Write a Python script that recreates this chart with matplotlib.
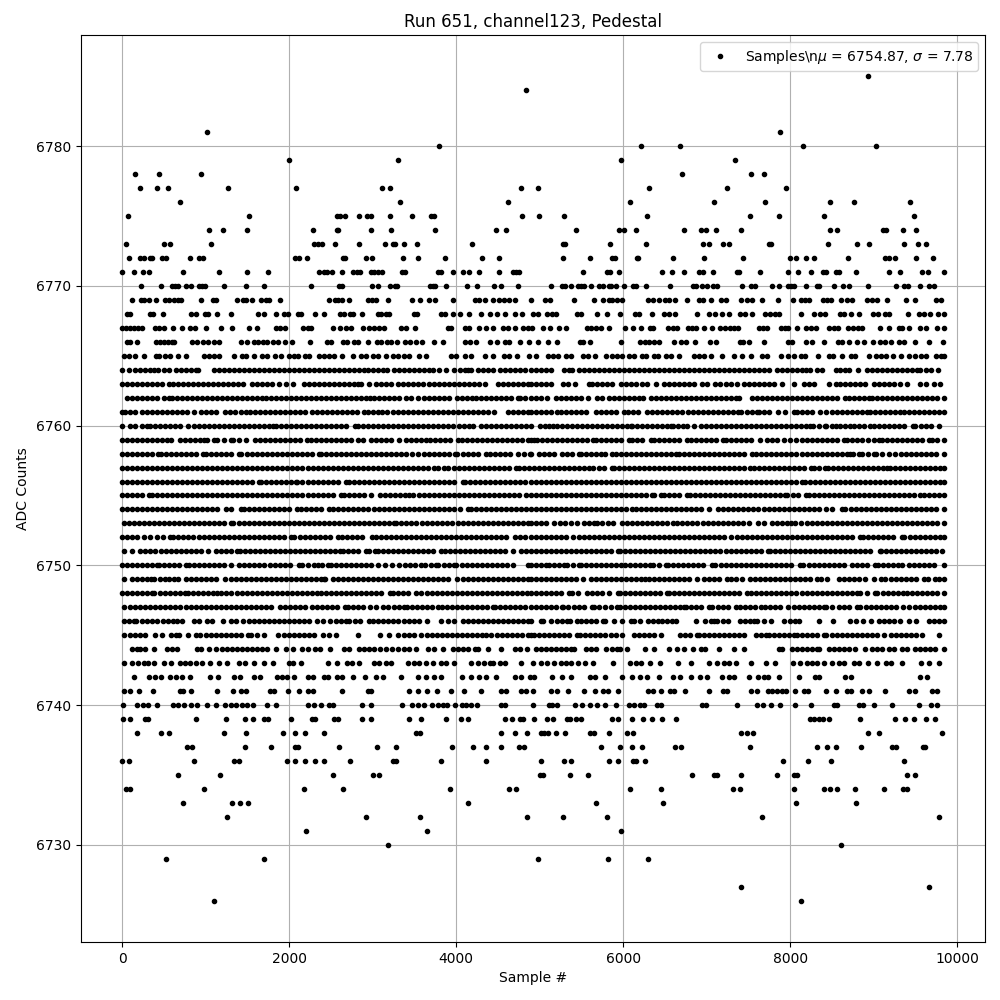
import matplotlib
matplotlib.use("Agg")
import matplotlib.pyplot as plt

# Sample numbers, one list per ADC level
s6785 = [8929]
s6784 = [4832]
s6781 = [1014, 7875]
s6780 = [3800, 6211, 6678, 8151, 9024]
s6779 = [2000, 3305, 5972, 7337]
s6778 = [152, 440, 944, 6702, 7528, 7684]
s6777 = [212, 416, 548, 1268, 2084, 3116, 3212, 4772, 4979, 6307, 7241, 7947]
s6776 = [692, 3332, 4616, 6080, 7085, 7696, 8474, 8761, 9431]
s6775 = [68, 1520, 2576, 2612, 2672, 2840, 2936, 2984, 3212, 3476, 3704, 3740, 4784, 4991, 5290, 6283, 7516, 7863, 8402, 9479]
s6774 = [1040, 1208, 1496, 2288, 2576, 2588, 2984, 3224, 3752, 4472, 4592, 5433, 5948, 6008, 6152, 6726, 6930, 6990, 7109, 7408, 8474, 8558, 9108, 9144, 9348, 9503]
s6773 = [44, 500, 568, 1064, 2300, 2348, 2396, 2552, 2840, 3152, 3248, 3272, 3380, 3536, 4184, 5278, 5302, 5840, 6271, 6954, 7025, 7193, 7265, 7744, 7768, 8447, 8797, 8940, 9359, 9527, 9623]
s6772 = [80, 212, 260, 332, 356, 476, 524, 812, 920, 968, 2072, 2120, 2216, 2648, 2672, 2924, 2996, 3368, 3548, 3872, 4304, 4508, 5278, 5601, 5864, 5900, 6164, 6176, 6595, 6966, 7432, 7995, 8067, 8186, 8282, 8689, 9132, 9180, 9252, 9503, 9707]
s6771 = [0, 140, 248, 320, 728, 1160, 1496, 1748, 2360, 2420, 2456, 2516, 2636, 2768, 2816, 2852, 2984, 3020, 3068, 3116, 3356, 3392, 3788, 3824, 3968, 4076, 4148, 4268, 4508, 4676, 4712, 4748, 5517, 5804, 5840, 5948, 6463, 6583, 6726, 6906, 6954, 7073, 7361, 7385, 7636, 7971, 8091, 8246, 8390, 8426, 8546, 8582, 8785, 9180, 9312, 9575, 9647, 9840]
s6770 = [224, 464, 596, 632, 668, 764, 824, 920, 956, 992, 1220, 1484, 1700, 2264, 2600, 2636, 2996, 3068, 3212, 3272, 3296, 3692, 3728, 3752, 3884, 4124, 4244, 4448, 4532, 4736, 5134, 5266, 5302, 5374, 5457, 5493, 5529, 5613, 5709, 5757, 5828, 5852, 5912, 6008, 6116, 6152, 6271, 6559, 6834, 6870, 6942, 7001, 7073, 7121, 7420, 7528, 7576, 7780, 7863, 7971, 8007, 8043, 8186, 8318, 8342, 8522, 8629, 8701, 8929, 9264, 9359, 9407, 9551, 9659, 9719]
s6769 = [116, 224, 260, 320, 404, 512, 560, 620, 668, 704, 944, 1088, 1124, 1376, 1448, 1484, 1556, 1664, 1724, 1760, 1892, 2480, 2552, 2588, 2636, 2720, 2948, 2996, 3044, 3188, 3476, 3572, 3680, 3752, 3968, 4220, 4268, 4340, 4436, 4508, 4568, 4628, 4700, 4895, 5062, 5122, 5409, 5649, 5757, 5828, 5864, 5924, 5984, 6295, 6355, 6427, 6499, 6547, 6618, 6762, 6906, 6954, 7049, 7169, 7229, 7408, 7480, 7540, 7660, 7851, 8031, 8127, 8175, 8223, 8390, 8438, 8486, 8605, 8677, 8737, 8917, 8977, 9036, 9156, 9383, 9491, 9743, 9803]
s6768 = [56, 92, 332, 368, 488, 824, 884, 992, 1028, 1136, 1304, 1628, 1700, 1844, 1940, 1988, 2108, 2144, 2312, 2420, 2612, 2660, 2732, 2768, 2876, 3068, 3104, 3164, 3200, 3500, 3536, 3824, 3872, 3968, 4040, 4148, 4292, 4400, 4484, 4580, 4700, 4784, 4919, 4979, 5086, 5146, 5194, 5445, 5493, 5685, 5804, 5960, 6140, 6188, 6343, 6487, 6547, 6618, 6878, 7025, 7097, 7181, 7265, 7397, 7456, 7540, 7696, 7756, 7815, 7863, 8123, 8282, 8354, 8414, 8593, 8641, 8725, 8821, 8989, 9048, 9132, 9180, 9407, 9539, 9599, 9671, 9767, 9838]
s6767 = [0, 44, 92, 140, 188, 244, 392, 440, 500, 608, 716, 812, 872, 1004, 1184, 1316, 1520, 1616, 1844, 1892, 1952, 2168, 2228, 2264, 2528, 2612, 2684, 2744, 2888, 2960, 3020, 3080, 3140, 3344, 3404, 3512, 3908, 3944, 4100, 4148, 4268, 4352, 4436, 4556, 4616, 4700, 4800, 4860, 4907, 5038, 5122, 5230, 5314, 5565, 5613, 5673, 5733, 5828, 6020, 6116, 6211, 6319, 6355, 6535, 6595, 6642, 6774, 6822, 6870, 6966, 7061, 7157, 7217, 7277, 7325, 7373, 7624, 7672, 7720, 7887, 7935, 7971, 8079, 8186, 8246, 8306, 8462, 8522, 8570, 8689, 8749, 8809, 8857, 9072, 9180, 9300, 9336, 9419, 9551, 9623, 9755, 9840]
s6766 = [56, 92, 176, 404, 452, 500, 548, 596, 620, 836, 896, 968, 1028, 1100, 1160, 1420, 1496, 1580, 1628, 1688, 1736, 1808, 1868, 1948, 2032, 2248, 2456, 2504, 2648, 2696, 2780, 2828, 2940, 3056, 3104, 3176, 3224, 3296, 3392, 3452, 3524, 3596, 3740, 3848, 4100, 4160, 4232, 4400, 4484, 4580, 4628, 4760, 4868, 4979, 5098, 5206, 5481, 5517, 5601, 5972, 6200, 6259, 6307, 6367, 6427, 6606, 6690, 6750, 6858, 7037, 7109, 7397, 7432, 7512, 7684, 7971, 8019, 8186, 8258, 8402, 8570, 8617, 8701, 8797, 8881, 8989, 9072, 9132, 9204, 9300, 9359, 9491, 9659, 9826]
s6765 = [20, 80, 152, 260, 404, 440, 512, 572, 668, 764, 980, 1040, 1100, 1160, 1340, 1436, 1484, 1576, 1676, 1740, 1832, 1904, 2000, 2060, 2108, 2192, 2240, 2360, 2420, 2480, 2540, 2636, 2768, 2864, 2924, 3000, 3060, 3164, 3240, 3300, 3380, 3440, 3560, 3640, 3944, 4004, 4100, 4180, 4340, 4440, 4568, 4628, 4724, 4868, 4951, 5098, 5158, 5218, 5314, 5374, 5517, 5577, 5661, 5792, 5864, 5924, 5984, 6068, 6128, 6223, 6271, 6367, 6415, 6511, 6571, 6666, 6846, 6906, 6966, 7049, 7181, 7325, 7420, 7528, 7660, 7720, 7887, 7971, 8043, 8127, 8175, 8330, 8462, 8510, 8617, 8725, 8773, 8941, 9024, 9084, 9144, 9228, 9324, 9419, 9491, 9563, 9623, 9743, 9803, 9840]
s6764 = [0, 80, 160, 220, 280, 340, 380, 428, 500, 560, 640, 700, 760, 820, 880, 908, 1100, 1160, 1220, 1280, 1340, 1400, 1460, 1520, 1580, 1640, 1700, 1760, 1820, 1880, 1940, 2000, 2060, 2120, 2180, 2240, 2300, 2360, 2420, 2480, 2540, 2600, 2660, 2720, 2780, 2840, 2900, 2940, 3000, 3060, 3120, 3172, 3260, 3320, 3380, 3440, 3500, 3560, 3620, 3680, 3720, 3800, 3880, 3980, 4040, 4100, 4140, 4180, 4260, 4320, 4380, 4440, 4520, 4580, 4640, 4700, 4760, 4820, 4900, 4950, 5010, 5070, 5130, 5290, 5350, 5390, 5469, 5529, 5590, 5650, 5710, 5770, 5830, 5890, 5950, 6010, 6070, 6130, 6190, 6250, 6310, 6370, 6430, 6490, 6550, 6610, 6670, 6730, 6790, 6850, 6910, 6966, 7025, 7085, 7145, 7205, 7265, 7325, 7385, 7445, 7505, 7565, 7625, 7684, 7744, 7843, 7903, 7963, 8023, 8083, 8143, 8183, 8242, 8322, 8382, 8542, 8600, 8660, 8701, 8809, 8921, 8980, 9040, 9100, 9160, 9220, 9280, 9340, 9400, 9460, 9519, 9559, 9620, 9680, 9767]
s6763 = [0, 60, 120, 180, 240, 300, 360, 420, 480, 560, 612, 672, 732, 792, 852, 912, 972, 1032, 1092, 1152, 1212, 1272, 1332, 1392, 1452, 1560, 1620, 1680, 1740, 1800, 1880, 1968, 2052, 2180, 2240, 2300, 2360, 2420, 2480, 2540, 2600, 2660, 2720, 2780, 2820, 2860, 2960, 3040, 3100, 3160, 3220, 3300, 3360, 3420, 3480, 3540, 3600, 3680, 3732, 3790, 3850, 3920, 3972, 4030, 4090, 4150, 4210, 4270, 4340, 4500, 4560, 4620, 4680, 4740, 4800, 4860, 4891, 4951, 5010, 5070, 5130, 5278, 5340, 5421, 5589, 5629, 5690, 5750, 5810, 5870, 5968, 6028, 6090, 6150, 6227, 6287, 6387, 6487, 6550, 6610, 6666, 6726, 6790, 6850, 6946, 7005, 7097, 7165, 7225, 7285, 7365, 7444, 7505, 7565, 7625, 7685, 7745, 7805, 7903, 8043, 8163, 8220, 8282, 8462, 8542, 8601, 8660, 8720, 8780, 8840, 8901, 9000, 9060, 9120, 9180, 9240, 9320, 9399, 9559, 9620, 9719, 9798]
s6762 = [60, 120, 180, 240, 300, 360, 420, 500, 560, 600, 652, 712, 772, 832, 892, 952, 1012, 1072, 1132, 1192, 1252, 1312, 1380, 1440, 1500, 1560, 1620, 1680, 1720, 1780, 1840, 1900, 1960, 2020, 2080, 2140, 2200, 2260, 2320, 2380, 2440, 2500, 2560, 2620, 2680, 2740, 2800, 2860, 2920, 2972, 3020, 3080, 3140, 3200, 3260, 3320, 3400, 3460, 3540, 3620, 3680, 3740, 3800, 3860, 3920, 4012, 4072, 4132, 4192, 4240, 4300, 4360, 4420, 4480, 4540, 4600, 4660, 4740, 4760, 4820, 4900, 4950, 5010, 5090, 5190, 5250, 5310, 5370, 5430, 5490, 5577, 5689, 5750, 5828, 5888, 5950, 6010, 6070, 6130, 6190, 6239, 6327, 6390, 6450, 6510, 6570, 6630, 6690, 6750, 6810, 6870, 6930, 6990, 7050, 7110, 7170, 7230, 7290, 7350, 7385, 7544, 7604, 7665, 7725, 7785, 7845, 7905, 7965, 8025, 8085, 8145, 8205, 8265, 8325, 8385, 8445, 8505, 8565, 8661, 8701, 8760, 8820, 8880, 8941, 8981, 9040, 9100, 9160, 9220, 9280, 9340, 9400, 9460, 9520, 9580, 9640, 9700, 9760, 9840]
s6761 = [0, 40, 100, 160, 240, 300, 360, 420, 480, 540, 600, 660, 720, 780, 860, 940, 1000, 1060, 1120, 1228, 1292, 1350, 1420, 1488, 1532, 1590, 1650, 1710, 1770, 1830, 1890, 1950, 2010, 2070, 2130, 2190, 2268, 2332, 2390, 2450, 2510, 2570, 2630, 2690, 2750, 2810, 2900, 2940, 3000, 3060, 3112, 3172, 3240, 3300, 3360, 3420, 3480, 3540, 3600, 3660, 3720, 3780, 3840, 3900, 3960, 4020, 4080, 4140, 4200, 4260, 4320, 4380, 4452, 4620, 4680, 4740, 4800, 4860, 4900, 4950, 5010, 5070, 5130, 5210, 5258, 5320, 5380, 5440, 5500, 5560, 5669, 5729, 5790, 5850, 5910, 6008, 6060, 6120, 6180, 6279, 6347, 6410, 6470, 6530, 6590, 6650, 6710, 6770, 6830, 6890, 6950, 7010, 7070, 7130, 7190, 7250, 7310, 7373, 7413, 7480, 7540, 7604, 7624, 7690, 7750, 7851, 7943, 8043, 8083, 8145, 8205, 8265, 8362, 8434, 8495, 8555, 8615, 8675, 8735, 8795, 8855, 8921, 8961, 9020, 9080, 9140, 9200, 9260, 9320, 9359, 9420, 9480, 9540, 9600, 9660, 9720, 9780, 9840]
s6760 = [0, 92, 160, 240, 300, 332, 392, 452, 512, 572, 632, 692, 788, 860, 920, 980, 1040, 1100, 1160, 1220, 1280, 1340, 1400, 1460, 1520, 1580, 1640, 1700, 1760, 1812, 1840, 1900, 1960, 2020, 2080, 2140, 2200, 2260, 2320, 2380, 2440, 2500, 2560, 2620, 2680, 2788, 2828, 2888, 2948, 3008, 3068, 3128, 3188, 3248, 3308, 3368, 3428, 3488, 3548, 3608, 3668, 3728, 3788, 3848, 3908, 3968, 4028, 4088, 4148, 4200, 4292, 4352, 4412, 4472, 4532, 4592, 4652, 4712, 4772, 4832, 4891, 5000, 5060, 5110, 5162, 5210, 5270, 5330, 5390, 5450, 5510, 5570, 5630, 5690, 5750, 5810, 5870, 5930, 5990, 6050, 6088, 6108, 6170, 6230, 6290, 6350, 6410, 6470, 6530, 6567, 6598, 6660, 6718, 6758, 6846, 6926, 6986, 7046, 7106, 7166, 7226, 7286, 7346, 7406, 7466, 7526, 7586, 7646, 7706, 7766, 7826, 7886, 7946, 8006, 8066, 8126, 8186, 8242, 8274, 8340, 8422, 8434, 8500, 8542, 8601, 8660, 8721, 8761, 8820, 8880, 8953, 9000, 9060, 9120, 9180, 9240, 9300, 9360, 9471, 9499, 9560, 9620, 9680, 9778]
s6759 = [0, 60, 120, 180, 240, 300, 360, 420, 480, 540, 588, 692, 752, 812, 872, 932, 980, 1012, 1100, 1140, 1220, 1300, 1332, 1400, 1480, 1588, 1648, 1708, 1768, 1828, 1888, 1948, 2008, 2068, 2128, 2212, 2260, 2320, 2380, 2440, 2500, 2560, 2620, 2680, 2740, 2820, 2880, 2980, 3040, 3100, 3160, 3220, 3312, 3400, 3460, 3520, 3580, 3640, 3692, 3750, 3810, 3870, 3930, 4020, 4068, 4130, 4190, 4250, 4310, 4370, 4430, 4490, 4550, 4610, 4670, 4730, 4788, 4860, 4891, 4931, 4971, 5030, 5090, 5150, 5210, 5270, 5330, 5390, 5450, 5510, 5570, 5641, 5669, 5730, 5790, 5850, 5910, 5970, 6068, 6108, 6170, 6230, 6327, 6367, 6430, 6490, 6550, 6610, 6670, 6766, 6806, 6870, 6930, 6990, 7050, 7110, 7197, 7225, 7290, 7350, 7410, 7470, 7530, 7632, 7716, 7780, 7840, 7923, 8003, 8075, 8140, 8200, 8260, 8320, 8380, 8440, 8500, 8560, 8641, 8681, 8740, 8800, 8860, 8929, 9000, 9060, 9100, 9160, 9220, 9280, 9340, 9400, 9460, 9520, 9580, 9659, 9699, 9760, 9840]
s6758 = [0, 60, 120, 180, 240, 300, 360, 428, 468, 530, 590, 650, 710, 770, 830, 890, 972, 1004, 1070, 1130, 1190, 1250, 1310, 1404, 1428, 1490, 1550, 1610, 1670, 1730, 1790, 1850, 1910, 1970, 2030, 2090, 2150, 2210, 2270, 2360, 2380, 2440, 2500, 2560, 2620, 2680, 2740, 2800, 2860, 2920, 2980, 3040, 3100, 3160, 3220, 3280, 3340, 3400, 3468, 3548, 3610, 3670, 3730, 3790, 3850, 3910, 3988, 4012, 4080, 4140, 4200, 4260, 4360, 4400, 4460, 4520, 4580, 4640, 4740, 4812, 4880, 4891, 4991, 5050, 5110, 5170, 5270, 5330, 5390, 5469, 5497, 5560, 5620, 5680, 5729, 5777, 5868, 5908, 5970, 6030, 6090, 6150, 6210, 6270, 6330, 6390, 6450, 6510, 6570, 6627, 6666, 6730, 6790, 6850, 6910, 6970, 7030, 7085, 7145, 7210, 7270, 7330, 7390, 7450, 7544, 7592, 7655, 7715, 7775, 7835, 7895, 7955, 8015, 8075, 8135, 8195, 8255, 8315, 8375, 8435, 8495, 8555, 8615, 8675, 8721, 8753, 8821, 8861, 8930, 9000, 9032, 9100, 9180, 9260, 9325, 9385, 9445, 9505, 9565, 9625, 9685, 9745, 9840]
s6757 = [0, 60, 120, 180, 240, 300, 360, 420, 480, 540, 600, 660, 720, 780, 840, 900, 960, 1020, 1080, 1140, 1200, 1260, 1320, 1380, 1440, 1500, 1560, 1620, 1680, 1740, 1800, 1860, 1920, 1980, 2040, 2100, 2160, 2220, 2280, 2340, 2400, 2460, 2520, 2580, 2640, 2700, 2760, 2820, 2880, 2940, 3000, 3060, 3120, 3180, 3240, 3300, 3360, 3420, 3480, 3540, 3600, 3660, 3740, 3780, 3860, 3908, 3970, 4030, 4090, 4150, 4210, 4270, 4330, 4390, 4450, 4510, 4570, 4630, 4720, 4748, 4810, 4870, 4930, 4990, 5050, 5110, 5170, 5230, 5290, 5350, 5410, 5470, 5530, 5590, 5641, 5709, 5770, 5868, 5888, 5950, 6010, 6070, 6130, 6190, 6250, 6310, 6370, 6430, 6490, 6550, 6610, 6670, 6730, 6790, 6850, 6910, 6970, 7030, 7090, 7150, 7210, 7270, 7330, 7390, 7450, 7524, 7564, 7630, 7690, 7750, 7810, 7870, 7930, 7990, 8050, 8110, 8170, 8250, 8282, 8350, 8422, 8450, 8510, 8570, 8630, 8690, 8750, 8810, 8870, 8930, 8990, 9050, 9110, 9160, 9192, 9255, 9315, 9375, 9435, 9495, 9555, 9615, 9675, 9735, 9795, 9840]
s6756 = [0, 60, 120, 180, 240, 300, 360, 420, 480, 540, 600, 660, 720, 780, 840, 900, 960, 1020, 1080, 1140, 1200, 1260, 1320, 1380, 1440, 1500, 1560, 1640, 1660, 1720, 1780, 1840, 1900, 1960, 2020, 2080, 2100, 2160, 2220, 2280, 2340, 2400, 2460, 2520, 2580, 2680, 2720, 2780, 2840, 2900, 2960, 3020, 3080, 3140, 3200, 3260, 3320, 3380, 3440, 3500, 3560, 3620, 3680, 3740, 3800, 3860, 3920, 3980, 4080, 4108, 4170, 4230, 4290, 4350, 4410, 4470, 4530, 4590, 4650, 4710, 4770, 4830, 4891, 4950, 5010, 5070, 5130, 5190, 5250, 5310, 5370, 5430, 5490, 5550, 5610, 5670, 5730, 5790, 5850, 5910, 5970, 6030, 6090, 6150, 6210, 6270, 6330, 6390, 6450, 6510, 6570, 6630, 6690, 6750, 6810, 6870, 6930, 6990, 7050, 7110, 7170, 7230, 7290, 7350, 7410, 7470, 7530, 7590, 7650, 7710, 7770, 7830, 7890, 7950, 8010, 8070, 8143, 8171, 8235, 8295, 8355, 8415, 8475, 8535, 8595, 8655, 8715, 8775, 8835, 8895, 8955, 9015, 9075, 9135, 9195, 9255, 9315, 9375, 9435, 9495, 9555, 9615, 9675, 9735, 9795, 9840]
s6755 = [0, 60, 120, 180, 240, 320, 360, 420, 480, 540, 600, 660, 720, 780, 840, 900, 960, 1020, 1080, 1140, 1200, 1260, 1320, 1380, 1440, 1500, 1560, 1620, 1680, 1740, 1800, 1860, 1920, 1980, 2040, 2100, 2160, 2220, 2280, 2340, 2400, 2460, 2520, 2620, 2652, 2720, 2780, 2840, 2900, 2980, 3092, 3150, 3210, 3270, 3330, 3390, 3440, 3488, 3550, 3610, 3670, 3730, 3790, 3850, 3910, 3970, 4030, 4090, 4150, 4210, 4270, 4330, 4390, 4450, 4510, 4570, 4630, 4690, 4750, 4840, 4891, 4950, 5010, 5070, 5130, 5190, 5250, 5310, 5370, 5430, 5490, 5550, 5610, 5670, 5730, 5790, 5850, 5910, 5970, 6030, 6090, 6150, 6210, 6270, 6347, 6367, 6455, 6487, 6550, 6610, 6670, 6766, 6798, 6860, 6920, 6980, 7040, 7100, 7160, 7220, 7280, 7340, 7400, 7460, 7520, 7580, 7640, 7700, 7760, 7820, 7880, 7943, 7963, 8030, 8090, 8183, 8223, 8285, 8345, 8405, 8465, 8525, 8585, 8645, 8705, 8765, 8825, 8885, 8945, 9005, 9065, 9125, 9185, 9245, 9305, 9365, 9425, 9485, 9551, 9599, 9660, 9720, 9780, 9840]
s6754 = [0, 60, 120, 180, 240, 300, 360, 420, 480, 540, 600, 660, 720, 780, 840, 900, 960, 1020, 1080, 1140, 1240, 1308, 1428, 1460, 1520, 1580, 1640, 1700, 1760, 1820, 1880, 1940, 2000, 2100, 2140, 2200, 2260, 2320, 2380, 2480, 2528, 2590, 2650, 2710, 2770, 2830, 2890, 2950, 3020, 3080, 3140, 3200, 3260, 3320, 3380, 3440, 3500, 3560, 3620, 3680, 3740, 3800, 3860, 3920, 3980, 4040, 4140, 4172, 4235, 4295, 4355, 4415, 4475, 4535, 4595, 4655, 4715, 4775, 4835, 4900, 4950, 5010, 5070, 5130, 5190, 5250, 5310, 5370, 5430, 5490, 5550, 5610, 5670, 5730, 5790, 5850, 5910, 5970, 6030, 6108, 6148, 6210, 6270, 6330, 6390, 6450, 6510, 6570, 6630, 6690, 6750, 6810, 6870, 6930, 7025, 7137, 7200, 7260, 7320, 7380, 7440, 7500, 7560, 7620, 7680, 7740, 7800, 7860, 7920, 7980, 8040, 8100, 8160, 8220, 8280, 8340, 8430, 8502, 8621, 8661, 8725, 8785, 8845, 8905, 8965, 9025, 9085, 9145, 9205, 9265, 9325, 9385, 9445, 9505, 9565, 9625, 9685, 9745, 9840]
s6753 = [20, 80, 140, 200, 260, 320, 380, 440, 500, 560, 620, 680, 740, 800, 860, 920, 980, 1040, 1100, 1160, 1220, 1300, 1332, 1395, 1455, 1515, 1575, 1635, 1695, 1755, 1815, 1875, 1935, 1995, 2055, 2115, 2175, 2235, 2295, 2355, 2415, 2475, 2535, 2595, 2655, 2715, 2775, 2835, 2895, 2955, 3015, 3075, 3135, 3195, 3260, 3280, 3345, 3405, 3465, 3525, 3585, 3645, 3705, 3765, 3825, 3885, 3948, 4020, 4080, 4140, 4200, 4260, 4320, 4380, 4440, 4500, 4560, 4620, 4680, 4740, 4800, 4860, 4900, 4950, 5010, 5080, 5170, 5242, 5300, 5370, 5449, 5529, 5590, 5649, 5689, 5750, 5816, 5880, 5988, 6050, 6110, 6170, 6230, 6290, 6350, 6410, 6470, 6530, 6595, 6642, 6705, 6765, 6826, 6886, 6950, 7010, 7070, 7130, 7190, 7250, 7310, 7370, 7430, 7504, 7616, 7680, 7784, 7843, 7905, 7965, 8011, 8063, 8131, 8195, 8255, 8315, 8375, 8435, 8495, 8555, 8615, 8675, 8735, 8795, 8855, 8915, 8975, 9035, 9095, 9155, 9215, 9275, 9335, 9395, 9455, 9515, 9575, 9635, 9695, 9755, 9840]
s6752 = [0, 60, 120, 180, 268, 340, 420, 490, 568, 612, 675, 735, 795, 855, 915, 975, 1035, 1095, 1155, 1215, 1275, 1335, 1395, 1455, 1515, 1575, 1635, 1695, 1755, 1815, 1875, 1935, 2028, 2060, 2125, 2185, 2245, 2305, 2365, 2425, 2485, 2580, 2628, 2690, 2750, 2810, 2870, 2988, 3040, 3100, 3160, 3220, 3280, 3340, 3400, 3460, 3520, 3580, 3640, 3700, 3760, 3820, 3880, 3940, 4000, 4060, 4120, 4180, 4240, 4300, 4360, 4420, 4480, 4540, 4600, 4700, 4760, 4820, 4900, 4950, 5010, 5070, 5130, 5190, 5250, 5310, 5402, 5465, 5525, 5585, 5645, 5705, 5765, 5825, 5885, 5945, 6005, 6065, 6125, 6185, 6245, 6305, 6365, 6425, 6485, 6545, 6605, 6665, 6725, 6785, 6845, 6905, 6965, 7025, 7085, 7145, 7205, 7285, 7357, 7420, 7480, 7540, 7600, 7660, 7720, 7780, 7840, 7900, 7960, 8020, 8080, 8140, 8200, 8260, 8320, 8380, 8440, 8500, 8560, 8620, 8680, 8740, 8841, 8873, 8935, 8995, 9055, 9115, 9175, 9235, 9340, 9367, 9430, 9490, 9550, 9610, 9670, 9730, 9790, 9840]
s6751 = [20, 120, 220, 280, 340, 400, 460, 520, 580, 640, 700, 760, 820, 880, 940, 1028, 1120, 1180, 1240, 1300, 1380, 1412, 1475, 1535, 1595, 1655, 1715, 1775, 1835, 1895, 1955, 2015, 2075, 2135, 2195, 2255, 2315, 2375, 2435, 2495, 2555, 2612, 2648, 2710, 2770, 2830, 2920, 2952, 3028, 3060, 3125, 3185, 3245, 3305, 3365, 3425, 3485, 3545, 3605, 3665, 3725, 3820, 3868, 3930, 3990, 4050, 4110, 4170, 4230, 4290, 4350, 4410, 4470, 4530, 4590, 4680, 4772, 4835, 4900, 4950, 5010, 5070, 5130, 5190, 5250, 5310, 5370, 5430, 5490, 5550, 5610, 5670, 5730, 5790, 5850, 5936, 5960, 6025, 6085, 6145, 6205, 6265, 6325, 6385, 6445, 6505, 6565, 6625, 6685, 6745, 6805, 6865, 6925, 6985, 7045, 7105, 7165, 7225, 7285, 7345, 7405, 7465, 7525, 7585, 7645, 7732, 7756, 7820, 7880, 7940, 8000, 8060, 8120, 8180, 8240, 8300, 8360, 8420, 8480, 8540, 8600, 8660, 8720, 8780, 8840, 8900, 8960, 9072, 9088, 9150, 9210, 9270, 9330, 9390, 9450, 9510, 9570, 9630, 9690, 9750, 9818]
s6750 = [0, 60, 120, 180, 240, 300, 360, 420, 440, 505, 565, 625, 685, 760, 800, 865, 925, 985, 1045, 1105, 1165, 1225, 1308, 1400, 1465, 1525, 1585, 1645, 1705, 1765, 1825, 1885, 1945, 2005, 2120, 2160, 2230, 2300, 2340, 2388, 2468, 2500, 2565, 2625, 2685, 2745, 2805, 2865, 2925, 2985, 3060, 3148, 3230, 3320, 3388, 3450, 3510, 3580, 3628, 3695, 3760, 3788, 3850, 3915, 3980, 4000, 4065, 4125, 4185, 4245, 4305, 4365, 4425, 4485, 4545, 4605, 4680, 4860, 4900, 4950, 5010, 5070, 5110, 5170, 5230, 5290, 5330, 5400, 5469, 5489, 5550, 5610, 5670, 5730, 5790, 5850, 5910, 5976, 6020, 6085, 6145, 6205, 6265, 6319, 6359, 6430, 6507, 6535, 6600, 6660, 6720, 6780, 6840, 6900, 6960, 7065, 7105, 7170, 7230, 7290, 7350, 7410, 7470, 7530, 7590, 7650, 7710, 7770, 7824, 7891, 7955, 8015, 8115, 8155, 8220, 8280, 8340, 8400, 8460, 8520, 8582, 8649, 8741, 8805, 8865, 8925, 9012, 9048, 9110, 9170, 9230, 9290, 9340, 9419, 9485, 9545, 9605, 9665, 9719, 9838]
s6749 = [28, 120, 180, 240, 300, 348, 380, 450, 512, 560, 620, 668, 760, 820, 880, 940, 1000, 1060, 1120, 1228, 1300, 1365, 1425, 1485, 1545, 1605, 1665, 1725, 1785, 1845, 1905, 1965, 2025, 2085, 2145, 2205, 2265, 2325, 2385, 2420, 2428, 2528, 2580, 2645, 2705, 2765, 2825, 2885, 2945, 3005, 3065, 3125, 3185, 3245, 3305, 3365, 3425, 3485, 3545, 3605, 3665, 3725, 3785, 3845, 3905, 4012, 4080, 4145, 4205, 4265, 4325, 4385, 4445, 4505, 4565, 4625, 4685, 4745, 4805, 4865, 4900, 4950, 5010, 5070, 5130, 5190, 5250, 5310, 5370, 5430, 5517, 5609, 5670, 5730, 5790, 5850, 5910, 5970, 6030, 6090, 6150, 6210, 6267, 6307, 6370, 6430, 6490, 6550, 6610, 6670, 6730, 6790, 6886, 6966, 7030, 7090, 7150, 7245, 7285, 7350, 7424, 7516, 7580, 7640, 7700, 7760, 7820, 7880, 7940, 8000, 8060, 8120, 8180, 8240, 8322, 8370, 8442, 8581, 8645, 8705, 8765, 8825, 8901, 9000, 9088, 9140, 9205, 9265, 9325, 9385, 9445, 9505, 9599, 9647, 9739, 9779, 9840]
s6748 = [0, 60, 120, 180, 240, 300, 360, 388, 455, 515, 575, 635, 695, 752, 788, 850, 910, 970, 1030, 1090, 1140, 1188, 1250, 1310, 1370, 1430, 1490, 1550, 1610, 1670, 1730, 1790, 1850, 1910, 1970, 2030, 2090, 2150, 2210, 2270, 2332, 2380, 2445, 2505, 2565, 2625, 2685, 2745, 2805, 2865, 2925, 2985, 3045, 3105, 3212, 3240, 3305, 3365, 3425, 3520, 3580, 3645, 3705, 3765, 3825, 3885, 3945, 4005, 4065, 4125, 4185, 4245, 4305, 4365, 4425, 4485, 4545, 4605, 4665, 4725, 4785, 4845, 4900, 4950, 5010, 5070, 5130, 5190, 5250, 5350, 5390, 5455, 5561, 5629, 5690, 5749, 5828, 5936, 5960, 6025, 6085, 6145, 6205, 6265, 6325, 6385, 6445, 6519, 6547, 6610, 6670, 6730, 6790, 6850, 6910, 6970, 7030, 7090, 7150, 7210, 7270, 7330, 7390, 7484, 7532, 7595, 7655, 7715, 7775, 7835, 7895, 7955, 8015, 8075, 8135, 8195, 8255, 8315, 8375, 8435, 8495, 8555, 8615, 8675, 8735, 8801, 8841, 8920, 9020, 9040, 9105, 9165, 9225, 9285, 9352, 9399, 9460, 9520, 9580, 9640, 9700, 9760, 9838]
s6747 = [28, 90, 150, 210, 270, 330, 390, 450, 510, 570, 630, 690, 760, 820, 885, 945, 1005, 1065, 1125, 1185, 1245, 1305, 1365, 1425, 1485, 1545, 1605, 1665, 1725, 1780, 1888, 1950, 2010, 2070, 2130, 2190, 2268, 2332, 2395, 2455, 2515, 2575, 2668, 2708, 2770, 2830, 2890, 2972, 3040, 3120, 3180, 3250, 3310, 3380, 3412, 3475, 3535, 3595, 3655, 3715, 3788, 3828, 3890, 3950, 4010, 4070, 4130, 4190, 4250, 4310, 4370, 4440, 4468, 4530, 4590, 4650, 4710, 4770, 4830, 4900, 4950, 5010, 5070, 5130, 5190, 5270, 5282, 5345, 5405, 5465, 5525, 5621, 5649, 5715, 5788, 5856, 5928, 5960, 6025, 6085, 6145, 6205, 6265, 6325, 6385, 6445, 6505, 6565, 6625, 6685, 6726, 6746, 6810, 6870, 6930, 7025, 7065, 7130, 7190, 7250, 7345, 7393, 7455, 7515, 7575, 7652, 7696, 7760, 7820, 7880, 7971, 8043, 8105, 8165, 8225, 8285, 8345, 8402, 8434, 8500, 8581, 8641, 8705, 8801, 8841, 8905, 8965, 9025, 9085, 9145, 9205, 9265, 9352, 9427, 9490, 9550, 9610, 9670, 9730, 9790, 9840]
s6746 = [28, 80, 140, 172, 235, 295, 355, 412, 488, 550, 610, 660, 720, 860, 920, 1020, 1072, 1212, 1300, 1360, 1452, 1515, 1575, 1635, 1695, 1755, 1815, 1875, 1935, 1995, 2055, 2115, 2180, 2240, 2332, 2400, 2492, 2560, 2620, 2680, 2720, 2785, 2845, 2960, 3000, 3065, 3125, 3185, 3245, 3300, 3372, 3435, 3495, 3555, 3652, 3820, 3900, 3980, 4080, 4140, 4200, 4260, 4320, 4380, 4440, 4500, 4560, 4620, 4680, 4740, 4800, 4860, 4900, 5010, 5042, 5138, 5210, 5270, 5330, 5362, 5449, 5497, 5560, 5620, 5680, 5761, 5788, 5888, 5988, 6088, 6128, 6207, 6299, 6360, 6415, 6467, 6530, 6590, 6634, 6866, 6985, 7050, 7085, 7125, 7190, 7253, 7397, 7456, 7520, 7572, 7604, 7684, 7772, 7931, 7995, 8055, 8103, 8342, 8510, 8713, 8790, 8869, 8969, 9060, 9120, 9180, 9240, 9320, 9419, 9511, 9659, 9720, 9780, 9840]
s6745 = [28, 90, 150, 210, 272, 400, 480, 580, 640, 680, 788, 880, 932, 1000, 1068, 1120, 1185, 1245, 1305, 1365, 1425, 1512, 1540, 1620, 1700, 1872, 1935, 1995, 2055, 2115, 2175, 2235, 2300, 2408, 2480, 2560, 2828, 3092, 3200, 3300, 3370, 3430, 3500, 3580, 3645, 3705, 3765, 3825, 3885, 3945, 4005, 4065, 4125, 4185, 4245, 4305, 4360, 4420, 4485, 4545, 4605, 4665, 4725, 4788, 4860, 4891, 4931, 4991, 5055, 5115, 5175, 5235, 5295, 5355, 5441, 5481, 5545, 5605, 5665, 5725, 5788, 5848, 5915, 5988, 6128, 6190, 6250, 6310, 6370, 6447, 6678, 6740, 6800, 6878, 6906, 6970, 7030, 7090, 7150, 7210, 7270, 7330, 7390, 7444, 7592, 7650, 7704, 7744, 7805, 7863, 7923, 7985, 8045, 8083, 8143, 8205, 8265, 8325, 8402, 8434, 8500, 8560, 8620, 8680, 8740, 8800, 8860, 8920, 8980, 9040, 9120, 9208, 9270, 9330, 9390, 9450, 9510, 9579, 9779]
s6744 = [120, 180, 220, 272, 388, 532, 600, 660, 900, 940, 1040, 1120, 1200, 1260, 1320, 1380, 1440, 1500, 1560, 1620, 1680, 1740, 1848, 1968, 2052, 2152, 2228, 2312, 2372, 2492, 2660, 2720, 2840, 2900, 2960, 3020, 3090, 3160, 3230, 3300, 3370, 3440, 3520, 3660, 3740, 3840, 3960, 4020, 4080, 4140, 4220, 4260, 4380, 4540, 4700, 4760, 4848, 4951, 5010, 5070, 5130, 5190, 5250, 5310, 5370, 5410, 5549, 5609, 5669, 5796, 5868, 5928, 5960, 6048, 6267, 6367, 6547, 6646, 6726, 6834, 6926, 6974, 7153, 7325, 7444, 7863, 7900, 8023, 8083, 8143, 8203, 8262, 8322, 8342, 8462, 8522, 8582, 8642, 8701, 8781, 8893, 8981, 9040, 9100, 9180, 9240, 9340, 9399, 9499, 9559, 9619, 9679, 9739, 9838]
s6743 = [20, 116, 188, 260, 310, 380, 500, 580, 692, 750, 810, 880, 960, 1052, 1160, 1252, 1400, 1468, 1580, 1700, 1808, 2000, 2052, 2144, 2468, 2568, 2692, 2756, 2840, 3020, 3080, 3160, 3220, 3420, 3490, 3560, 3640, 3720, 3820, 3880, 3980, 4172, 4260, 4328, 4400, 4440, 4520, 4588, 4772, 4919, 5014, 5086, 5170, 5250, 5318, 5370, 5457, 5541, 5637, 5880, 6080, 6156, 6219, 6319, 6439, 6658, 6810, 7025, 7125, 7205, 7265, 7345, 7532, 7704, 7815, 8031, 8115, 8203, 8262, 8322, 8402, 8502, 8581, 8641, 8761, 8821, 8929, 9040, 9152, 9212, 9340, 9567, 9659, 9787]
s6742 = [140, 320, 400, 460, 572, 644, 716, 812, 1052, 1148, 1340, 1412, 1580, 1652, 1860, 1920, 1980, 2060, 2228, 2280, 2420, 2460, 2572, 2628, 2768, 2912, 3044, 3120, 3344, 3540, 3640, 3740, 3820, 4064, 4180, 4272, 4360, 4480, 4700, 4780, 4880, 4931, 5150, 5270, 5380, 5601, 5661, 5788, 5988, 6100, 6207, 6287, 6423, 6595, 6686, 6806, 6914, 7001, 7181, 7269, 7329, 7504, 7612, 7684, 7732, 7863, 8103, 8302, 8342, 8653, 8733, 9559, 9639]
s6741 = [20, 92, 200, 368, 692, 732, 824, 1136, 1328, 1424, 1484, 1772, 1820, 1988, 2120, 2228, 2280, 2636, 2940, 2980, 3440, 3548, 3656, 3772, 3944, 4088, 4292, 4540, 4600, 4780, 4840, 4919, 5138, 5210, 5338, 5529, 5661, 5757, 5820, 5936, 6295, 6359, 6451, 6559, 6606, 6738, 7025, 7197, 7237, 7532, 7604, 7732, 7780, 7840, 7900, 7955, 8055, 8163, 8211, 8426, 8550, 8681, 8729, 8857, 8941, 9132, 9419, 9491, 9699, 9759]
s6740 = [8, 176, 248, 308, 416, 608, 672, 740, 820, 896, 1012, 1120, 1232, 1304, 1360, 1432, 1500, 1572, 1736, 1844, 2220, 2300, 2380, 2480, 2520, 2876, 2984, 3352, 3476, 3548, 3620, 3716, 3780, 3840, 3896, 3992, 4068, 4116, 4180, 4252, 4540, 4580, 4923, 5110, 5150, 5210, 5421, 5505, 5601, 5685, 5781, 5912, 6068, 6128, 6200, 6255, 6399, 6447, 6946, 6986, 7361, 7604, 7676, 7772, 7875, 8055, 8246, 8522, 8562, 8821, 8873, 9000, 9216, 9543, 9683, 9755]
s6739 = [8, 92, 272, 308, 884, 1244, 1472, 1568, 1700, 1752, 2020, 2268, 2308, 2540, 2580, 2876, 2984, 3440, 3584, 3884, 4052, 4140, 4580, 4664, 4760, 4800, 4931, 5090, 5158, 5322, 5362, 5437, 5489, 5868, 5936, 6108, 6235, 6343, 6463, 6634, 8234, 8282, 8342, 8394, 8462, 8833, 9252, 9371, 9479, 9623, 9731]
s6738 = [176, 464, 560, 1220, 1484, 1928, 2072, 2192, 2420, 3520, 3572, 4532, 4700, 4844, 5014, 5050, 5098, 5194, 5302, 5601, 5649, 5828, 6040, 6116, 7416, 7484, 7552, 8929, 9060, 9815]
s6737 = [776, 836, 1472, 1784, 2072, 2108, 2600, 3056, 3284, 3956, 4196, 4352, 4532, 4748, 4808, 5733, 5960, 6104, 6223, 6618, 6690, 7516, 8318, 8438, 8546, 8845, 9220, 9268, 9591, 9619]
s6736 = [0, 80, 860, 1340, 1400, 1976, 2076, 2192, 2312, 2420, 2732, 3240, 3280, 3824, 4352, 5014, 5290, 5374, 5828, 5936, 6116, 6148, 6259, 7911, 8210, 8486, 9359]
s6735 = [668, 1172, 2528, 3008, 3080, 4999, 5038, 5362, 5577, 6822, 7085, 7121, 7408, 7839, 8043, 8083, 9395, 9491]
s6734 = [44, 92, 980, 2180, 2648, 3932, 4628, 4712, 6080, 6451, 7313, 7397, 8043, 8402, 8474, 8558, 8773, 9120, 9348, 9399]
s6733 = [728, 1316, 1412, 1508, 4136, 5673, 6475, 8067, 8785]
s6732 = [1256, 2924, 3572, 4844, 5278, 5804, 7660, 9779]
s6731 = [2204, 3656, 5972]
s6730 = [3188, 8605]
s6729 = [524, 1700, 4979, 5816, 6295]
s6727 = [7408, 9659]
s6726 = [1100, 8127]

levels = [6785, 6784, 6781, 6780, 6779, 6778, 6777, 6776, 6775, 6774, 6773, 6772, 6771, 6770, 6769, 6768, 6767, 6766,
          6765, 6764, 6763, 6762, 6761, 6760, 6759, 6758, 6757, 6756, 6755, 6754, 6753, 6752, 6751, 6750, 6749, 6748,
          6747, 6746, 6745, 6744, 6743, 6742, 6741, 6740, 6739, 6738, 6737, 6736, 6735, 6734, 6733, 6732, 6731, 6730,
          6729, 6727, 6726]
rows = [s6785, s6784, s6781, s6780, s6779, s6778, s6777, s6776, s6775, s6774, s6773, s6772, s6771, s6770, s6769, s6768, s6767, s6766,
        s6765, s6764, s6763, s6762, s6761, s6760, s6759, s6758, s6757, s6756, s6755, s6754, s6753, s6752, s6751, s6750, s6749, s6748,
        s6747, s6746, s6745, s6744, s6743, s6742, s6741, s6740, s6739, s6738, s6737, s6736, s6735, s6734, s6733, s6732, s6731, s6730,
        s6729, s6727, s6726]

x = []
y = []
for level, row in zip(levels, rows):
    x += row
    y += [level] * len(row)

plt.figure(figsize=(10, 10))
plt.plot(x, y, "k.", label="Samples\\n$\\mu$ = 6754.87, $\\sigma$ = 7.78")
plt.title("Run 651, channel123, Pedestal")
plt.xlabel("Sample #")
plt.ylabel("ADC Counts")
plt.grid()
plt.legend(loc="upper right")
plt.subplots_adjust(left=0.081, right=0.985, top=0.965, bottom=0.058)
plt.savefig("out.png", dpi=100)
